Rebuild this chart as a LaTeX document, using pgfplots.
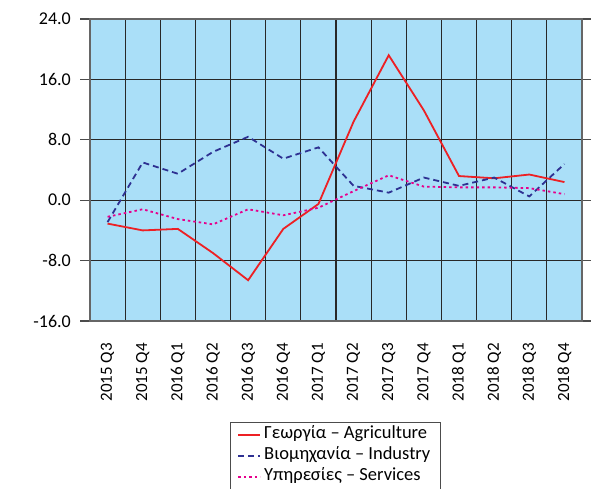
\documentclass[border=0pt]{standalone}
\usepackage{pgfplots}
\pgfplotsset{compat=1.18}
\usepackage{fontspec}
\setmainfont{Carlito}
\definecolor{bgblue}{RGB}{170,223,248}
\definecolor{agri}{RGB}{237,32,36}
\definecolor{indu}{RGB}{46,49,146}
\definecolor{serv}{RGB}{230,0,140}
\definecolor{gridc}{RGB}{40,40,40}
\begin{document}
\begin{tikzpicture}
\useasboundingbox (0pt,0pt) rectangle (591pt,488pt);
\begin{axis}[
  at={(90pt,167pt)}, anchor=south west,
  scale only axis, width=492pt, height=302pt,
  xmin=-0.5, xmax=13.5, ymin=-16, ymax=24,
  xtick={0,1,2,3,4,5,6,7,8,9,10,11,12,13},
  xticklabels={2015 Q3,2015 Q4,2016 Q1,2016 Q2,2016 Q3,2016 Q4,2017 Q1,2017 Q2,2017 Q3,2017 Q4,2018 Q1,2018 Q2,2018 Q3,2018 Q4},
  x tick label style={yshift=-12pt, rotate=90, anchor=east, font=\fontsize{17}{17}\selectfont, inner sep=0pt},
  minor xtick={-0.5,0.5,1.5,2.5,3.5,4.5,5.5,6.5,7.5,8.5,9.5,10.5,11.5,12.5,13.5},
  xminorgrids,
  major x tick style={draw=none}, minor x tick style={draw=none},
  ytick={-16,-8,0,8,16,24},
  ymajorgrids,
  grid style={gridc, line width=1.2pt},
  minor grid style={gridc, line width=1.2pt},
  axis background/.style={fill=bgblue},
  axis line style={black!60, line width=1.4pt},
  tick align=outside, major tick length=10pt,
  major y tick style={black!70, line width=1.2pt},
  y tick label style={font=\fontsize{18}{18}\selectfont, inner sep=0pt, xshift=-9pt},
  yticklabel style={/pgf/number format/.cd, fixed, fixed zerofill, precision=1, assume math mode=true},
  legend style={at={(axis description cs:0.2846,-0.334)}, anchor=north west,
    draw=black!70, line width=0.8pt, font=\fontsize{18.5}{21}\selectfont,
    nodes={text height=11pt, text depth=4pt, inner sep=3pt, anchor=west},
    inner xsep=7pt, inner ysep=2pt},
  legend cell align=left,
  legend image code/.code={\draw[#1] (0pt,0pt) -- (22pt,0pt);},
]
\addplot[agri, line width=1.8pt] coordinates {
(0,-3.1) (1,-4.0) (2,-3.8) (3,-7.0) (4,-10.6) (5,-3.8) (6,-0.5) (7,10.4) (8,19.2) (9,11.9) (10,3.2) (11,2.9) (12,3.4) (13,2.4)};
\addlegendentry{Γεωργία – Agriculture}
\addplot[indu, line width=1.8pt, dash pattern=on 6pt off 4pt] coordinates {
(0,-2.9) (1,5.0) (2,3.5) (3,6.4) (4,8.4) (5,5.5) (6,7.0) (7,1.9) (8,1.0) (9,3.0) (10,1.9) (11,3.0) (12,0.5) (13,4.8)};
\addlegendentry{Βιομηχανία – Industry}
\addplot[serv, line width=1.8pt, dash pattern=on 2.5pt off 3pt] coordinates {
(0,-2.2) (1,-1.2) (2,-2.5) (3,-3.2) (4,-1.2) (5,-2.0) (6,-1.0) (7,1.2) (8,3.3) (9,1.8) (10,1.7) (11,1.7) (12,1.6) (13,0.8)};
\addlegendentry{Υπηρεσίες – Services}
\end{axis}
\end{tikzpicture}
\end{document}
